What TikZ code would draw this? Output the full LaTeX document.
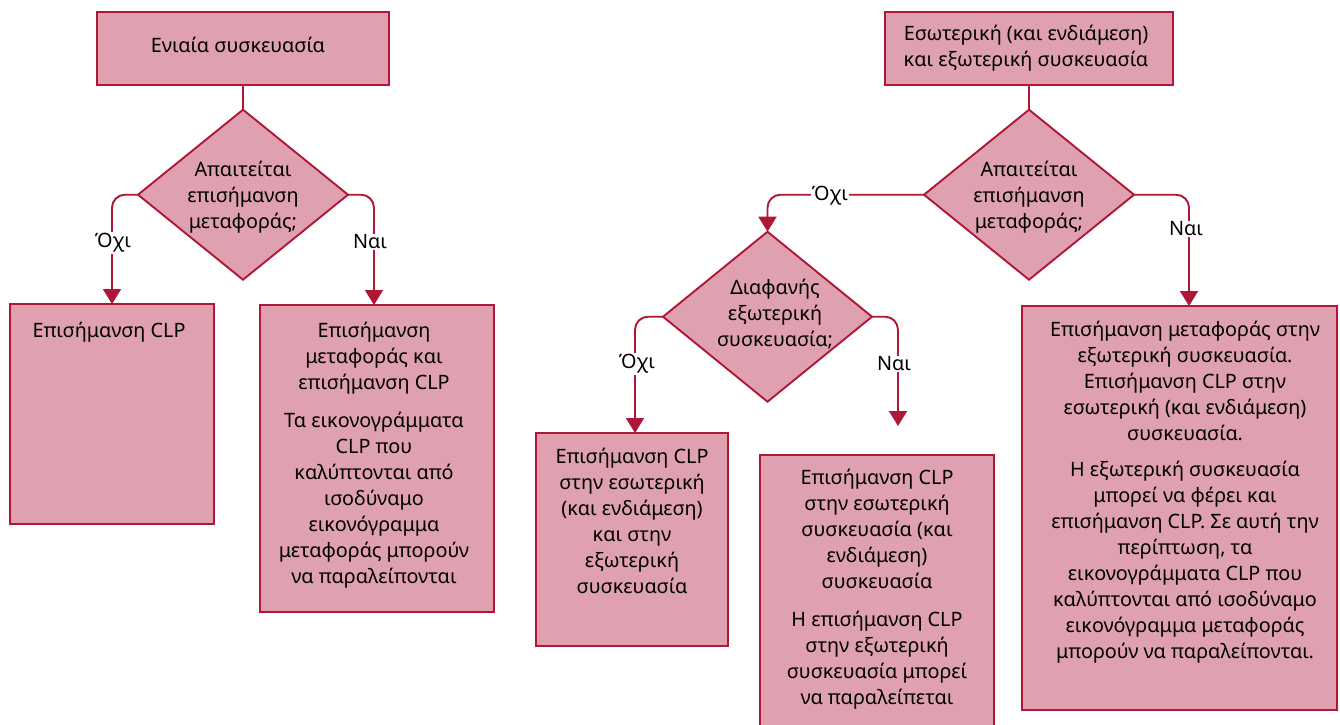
\documentclass[tikz,border=0pt]{standalone}
\usepackage{fontspec}
\setmainfont{Noto Sans}
\usetikzlibrary{arrows.meta,shapes.geometric}
\definecolor{edge}{HTML}{B01737}
\definecolor{fillp}{HTML}{DFA1AF}
\tikzset{
 x=1pt,y=-1pt,
 every node/.style={font=\fontsize{19.8}{26}\selectfont,text=black,inner sep=0pt,outer sep=0pt},
 boxa/.style={draw=edge,fill=fillp,line width=1.9pt,rectangle,anchor=north west},
 dia/.style={draw=edge,fill=fillp,line width=1.9pt,line join=miter},
 txt/.style={align=center,anchor=north},
 conn/.style={draw=edge,line width=1.9pt,rounded corners=13pt},
 arr/.style={conn,-{Triangle[length=15pt,width=18pt]}},
 lab/.style={fill=white,inner xsep=1pt,inner ysep=1pt},
}
\newcommand{\boxnode}[5]{\node[boxa,minimum width=#4-#2,minimum height=#5-#3] (#1) at (#2,#3) {};}
\newcommand{\dianode}[4]{% name cx cy halfwidth
 \coordinate (#1-c) at (#2,#3);
 \coordinate (#1-n) at (#2,#3-85);
 \coordinate (#1-s) at (#2,#3+85);
 \coordinate (#1-w) at (#2-#4,#3);
 \coordinate (#1-e) at (#2+#4,#3);
 \draw[dia] (#1-n)--(#1-e)--(#1-s)--(#1-w)--cycle;}
\begin{document}
\begin{tikzpicture}
\useasboundingbox (0,0) rectangle (1340,724);
\boxnode{a}{97}{12}{389}{85}
\boxnode{b}{885}{12}{1173}{85}
\boxnode{c}{10}{304}{214}{524}
\boxnode{d}{260}{305}{494}{612}
\boxnode{e}{536}{433}{728}{646}
\boxnode{f}{760}{455}{994}{730}
\boxnode{g}{1022}{306}{1337}{710}
\dianode{p}{243}{194.7}{105}
\dianode{q}{1029}{194.7}{105}
\dianode{r}{767.5}{316.7}{104.5}
\coordinate (freeend) at (898,426);
\draw[conn] (a.south) -- (p-n);
\draw[conn] (b.south-|q-n) -- (q-n);
\draw[arr] (p-w) -| (112,304) coordinate (c1);
\draw[arr] (p-e) -| (374,305) coordinate (d1);
\draw[arr] (q-w) -| (r-n);
\draw[arr] (q-e) -| (1189,306) coordinate (g1);
\draw[arr] (r-w) -| (635,433) coordinate (e1);
\draw[arr] (r-e) -| (freeend);
\node[lab] (l1) at (113,243) {Όχι};
\node[lab] (l2) at (370,242) {Ναι};
\node[lab] (l3) at (830,196) {Όχι};
\node[lab] (l4) at (1186,229) {Ναι};
\node[lab] (l5) at (637,364) {Όχι};
\node[lab] (l6) at (894,364) {Ναι};
\node[txt] (t1) at (238,37) {Ενιαία συσκευασία};
\node[txt] (t2) at (1026,25) {Εσωτερική (και ενδιάμεση)\\και εξωτερική συσκευασία};
\node[txt] (t3) at (243,161.5) {Απαιτείται\\επισήμανση\\μεταφοράς;};
\node[txt] (t4) at (1029,161.5) {Απαιτείται\\επισήμανση\\μεταφοράς;};
\node[txt] (t5) at (775,279) {Διαφανής\\εξωτερική\\συσκευασία;};
\node[txt] (t6) at (109,322) {Επισήμανση CLP};
\node[txt] (t7) at (374,322) {Επισήμανση\\μεταφοράς και\\επισήμανση CLP\\[12.5pt]Τα εικονογράμματα\\CLP που\\καλύπτονται από\\ισοδύναμο\\εικονόγραμμα\\μεταφοράς μπορούν\\να παραλείπονται};
\node[txt] (t8) at (632,448) {Επισήμανση CLP\\στην εσωτερική\\(και ενδιάμεση)\\και στην\\εξωτερική\\συσκευασία};
\node[txt] (t9) at (877,469.5) {Επισήμανση CLP\\στην εσωτερική\\συσκευασία (και\\ενδιάμεση)\\συσκευασία\\[12pt]Η επισήμανση CLP\\στην εξωτερική\\συσκευασία μπορεί\\να παραλείπεται};
\node[txt] (t10) at (1185,321) {Επισήμανση μεταφοράς στην\\εξωτερική συσκευασία.\\Επισήμανση CLP στην\\εσωτερική (και ενδιάμεση)\\συσκευασία.\\[10pt]Η εξωτερική συσκευασία\\μπορεί να φέρει και\\επισήμανση CLP. Σε αυτή την\\περίπτωση, τα\\εικονογράμματα CLP που\\καλύπτονται από ισοδύναμο\\εικονόγραμμα μεταφοράς\\μπορούν να παραλείπονται.};
\end{tikzpicture}
\end{document}
